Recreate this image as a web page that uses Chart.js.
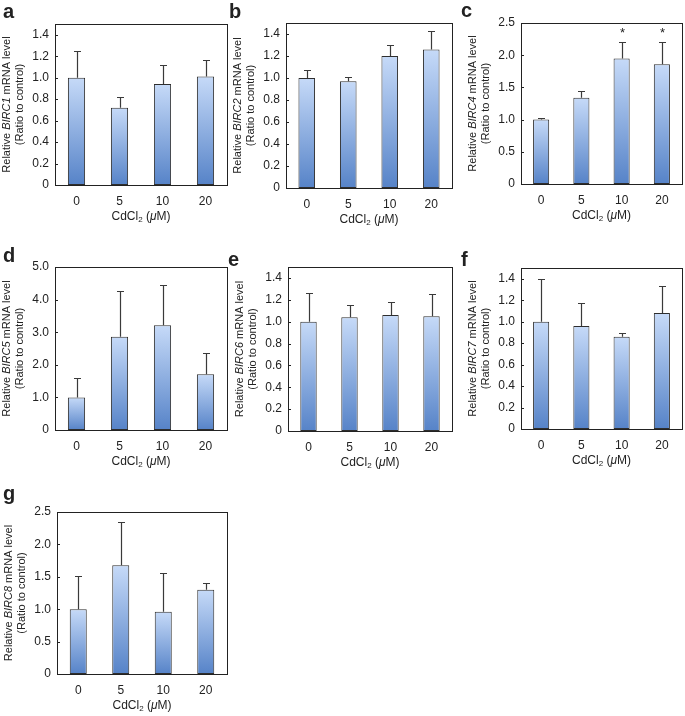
<!DOCTYPE html>
<html>
<head>
<meta charset="utf-8">
<script src="https://cdn.jsdelivr.net/npm/chart.js@4"></script>
<style>
  html, body { margin: 0; padding: 0; background: #fff; }
  body { width: 685px; height: 716px; position: relative; overflow: hidden; }
  canvas { position: absolute; }
</style>
</head>
<body>
<script>
// CdCl2 doses on the x axis
const doses = ['0', '5', '10', '20'];

// mean relative mRNA level and upper error (SD) for each gene
const birc1Mean = [1.00, 0.72, 0.94, 1.01];
const birc1Sd   = [0.25, 0.10, 0.18, 0.15];
const birc2Mean = [1.00, 0.97, 1.20, 1.26];
const birc2Sd   = [0.07, 0.04, 0.10, 0.17];
const birc4Mean = [1.00, 1.34, 1.95, 1.86];
const birc4Sd   = [0.03, 0.11, 0.26, 0.35];
const birc4Stars = ['', '', '*', '*'];
const birc5Mean = [1.00, 2.86, 3.21, 1.71];
const birc5Sd   = [0.58, 1.41, 1.24, 0.66];
const birc6Mean = [1.00, 1.04, 1.06, 1.05];
const birc6Sd   = [0.26, 0.11, 0.12, 0.20];
const birc7Mean = [1.00, 0.96, 0.86, 1.08];
const birc7Sd   = [0.40, 0.21, 0.03, 0.25];
const birc8Mean = [1.00, 1.68, 0.96, 1.30];
const birc8Sd   = [0.51, 0.67, 0.60, 0.11];

// y tick labels per axis type
const ticks15 = [0, 0.2, 0.4, 0.6, 0.8, 1.0, 1.2, 1.4];
const ticks25 = [0, 0.5, 1.0, 1.5, 2.0, 2.5];
const ticks50 = [0, 1.0, 2.0, 3.0, 4.0, 5.0];

const panels = [
  { letter: 'a', gene: 'BIRC1', mean: birc1Mean, sd: birc1Sd, max: 1.5, ticks: ticks15 },
  { letter: 'b', gene: 'BIRC2', mean: birc2Mean, sd: birc2Sd, max: 1.5, ticks: ticks15 },
  { letter: 'c', gene: 'BIRC4', mean: birc4Mean, sd: birc4Sd, max: 2.5, ticks: ticks25, stars: birc4Stars },
  { letter: 'd', gene: 'BIRC5', mean: birc5Mean, sd: birc5Sd, max: 5.0, ticks: ticks50 },
  { letter: 'e', gene: 'BIRC6', mean: birc6Mean, sd: birc6Sd, max: 1.5, ticks: ticks15 },
  { letter: 'f', gene: 'BIRC7', mean: birc7Mean, sd: birc7Sd, max: 1.5, ticks: ticks15 },
  { letter: 'g', gene: 'BIRC8', mean: birc8Mean, sd: birc8Sd, max: 2.5, ticks: ticks25 },
];

// plot boxes on the page [left, top, right, bottom] and panel letter spot
const boxes = {
  a: { box: [55, 24, 227, 185], lx: 3, ly: 18 },
  b: { box: [286, 23, 452, 188], lx: 229, ly: 18 },
  c: { box: [521, 23, 682, 184], lx: 461, ly: 17 },
  d: { box: [55, 267, 227, 430], lx: 3, ly: 262 },
  e: { box: [288, 267, 452, 431], lx: 228, ly: 266 },
  f: { box: [521, 268, 682, 429], lx: 461, ly: 266 },
  g: { box: [57, 512, 227, 674], lx: 3, ly: 500 },
};

const FONT = "'Liberation Sans', Arial, Helvetica, sans-serif";
const INK = '#222';
const PAD_L = 65, PAD_T = 30, PAD_R = 3, PAD_B = 50;

// draw a row of text pieces with their own fonts, centred on x
function drawRuns(ctx, runs, x, y) {
  let total = 0;
  runs.forEach(r => { ctx.font = r.font; total += ctx.measureText(r.text).width; });
  let cx = x - total / 2;
  runs.forEach(r => {
    ctx.font = r.font;
    ctx.fillText(r.text, cx, y + (r.dy || 0));
    cx += ctx.measureText(r.text).width;
  });
}

const panelDecor = {
  id: 'panelDecor',
  afterDatasetsDraw(chart, args, opts) {
    const { ctx, chartArea: ca, scales } = chart;
    const p = opts.panel;
    const y = scales.y, x = scales.x;
    ctx.save();

    // error bars (upper only)
    ctx.strokeStyle = '#3a3a3a';
    ctx.lineWidth = 1.2;
    p.mean.forEach((m, i) => {
      const px = Math.round(x.getPixelForValue(i)) + 0.5;
      const y0 = y.getPixelForValue(m);
      const y1 = Math.round(y.getPixelForValue(m + p.sd[i])) + 0.5;
      ctx.beginPath();
      ctx.moveTo(px, y0);
      ctx.lineTo(px, y1);
      ctx.moveTo(px - 3.5, y1);
      ctx.lineTo(px + 3.5, y1);
      ctx.stroke();
      if (p.stars && p.stars[i]) {
        ctx.fillStyle = INK;
        ctx.font = '13px ' + FONT;
        ctx.textAlign = 'center';
        ctx.textBaseline = 'middle';
        ctx.fillText(p.stars[i], px, y1 - 9);
      }
    });

    // frame
    ctx.strokeStyle = INK;
    ctx.lineWidth = 1;
    ctx.strokeRect(Math.round(ca.left) + 0.5, Math.round(ca.top) + 0.5,
      Math.round(ca.right - ca.left), Math.round(ca.bottom - ca.top));

    // inward tick marks on y
    y.ticks.forEach(t => {
      const ty = Math.round(y.getPixelForValue(t.value)) + 0.5;
      ctx.beginPath();
      ctx.moveTo(ca.left, ty);
      ctx.lineTo(ca.left + 3, ty);
      ctx.stroke();
    });

    ctx.fillStyle = INK;
    ctx.textBaseline = 'middle';
    ctx.textAlign = 'left';

    // x title: CdCl2 (µM)
    const xc = (ca.left + ca.right) / 2;
    drawRuns(ctx, [
      { text: 'CdCl', font: '12px ' + FONT },
      { text: '2', font: '8px ' + FONT, dy: 3 },
      { text: ' (', font: '12px ' + FONT },
      { text: 'μ', font: 'italic 12px ' + FONT },
      { text: 'M)', font: '12px ' + FONT },
    ], xc, ca.bottom + 32);

    // y title, two rotated lines
    const yc = (ca.top + ca.bottom) / 2;
    ctx.save();
    ctx.translate(ca.left - 48, yc);
    ctx.rotate(-Math.PI / 2);
    drawRuns(ctx, [
      { text: 'Relative ', font: '11px ' + FONT },
      { text: p.gene, font: 'italic 11px ' + FONT },
      { text: ' mRNA level', font: '11px ' + FONT },
    ], 0, 0);
    ctx.restore();
    ctx.save();
    ctx.translate(ca.left - 35, yc);
    ctx.rotate(-Math.PI / 2);
    drawRuns(ctx, [{ text: '(Ratio to control)', font: '11px ' + FONT }], 0, 0);
    ctx.restore();

    // panel letter
    ctx.font = 'bold 20px ' + FONT;
    ctx.textBaseline = 'alphabetic';
    ctx.fillText(p.letter, opts.lx, opts.ly);

    ctx.restore();
  }
};

panels.forEach(p => {
  const spot = boxes[p.letter];
  const [L, T, R, B] = spot.box;
  const ox = L - PAD_L, oy = T - PAD_T;
  const canvas = document.createElement('canvas');
  canvas.width = R - L + PAD_L + PAD_R;
  canvas.height = B - T + PAD_T + PAD_B;
  canvas.style.left = ox + 'px';
  canvas.style.top = oy + 'px';
  document.body.appendChild(canvas);

  new Chart(canvas.getContext('2d'), {
    type: 'bar',
    data: {
      labels: doses,
      datasets: [{
        data: p.mean,
        backgroundColor: (c) => {
          const chart = c.chart;
          if (!chart.chartArea || c.raw == null) return '#8fb0e2';
          const ys = chart.scales.y;
          const top = ys.getPixelForValue(c.raw);
          const bot = ys.getPixelForValue(0);
          if (!isFinite(top) || !isFinite(bot) || bot - top < 1) return '#8fb0e2';
          const g = chart.ctx.createLinearGradient(0, top, 0, bot);
          g.addColorStop(0, '#c6daf8');
          g.addColorStop(1, '#5683c8');
          return g;
        },
        borderColor: '#2e2e2e',
        borderWidth: 1,
        borderSkipped: false,
        barPercentage: 0.4,
        categoryPercentage: 1.0,
      }]
    },
    options: {
      responsive: false,
      animation: false,
      layout: { padding: { left: 0, top: PAD_T, right: PAD_R, bottom: 0 } },
      plugins: {
        legend: { display: false },
        tooltip: { enabled: false },
        panelDecor: { panel: p, lx: spot.lx - ox, ly: spot.ly - oy },
      },
      scales: {
        x: {
          grid: { display: false, drawTicks: false },
          border: { display: false },
          ticks: { color: INK, font: { family: FONT, size: 12 }, padding: 9, maxRotation: 0 },
          afterFit: (s) => { s.height = PAD_B; },
        },
        y: {
          min: 0,
          max: p.max,
          grid: { display: false, drawTicks: false },
          border: { display: false },
          ticks: {
            color: INK,
            padding: 6,
            font: { family: FONT, size: 12 },
            callback: (v) => (v === 0 ? '0' : Number(v).toFixed(1)),
          },
          afterBuildTicks: (s) => {
            s.ticks = p.ticks.map(v => ({ value: v }));
          },
          afterFit: (s) => { s.width = PAD_L; },
        }
      }
    },
    plugins: [panelDecor]
  });
});
</script>
</body>
</html>
